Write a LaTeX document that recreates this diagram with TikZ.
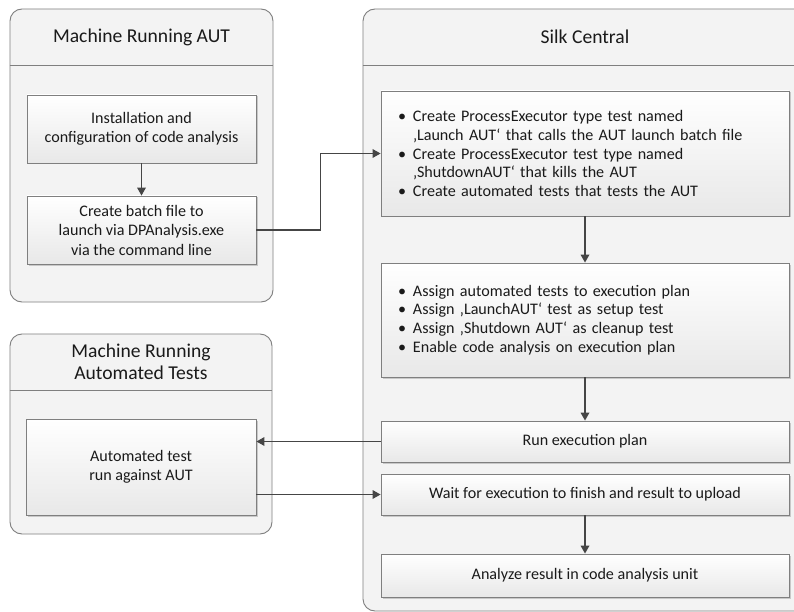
\documentclass[tikz,border=0pt]{standalone}
\usepackage{fontspec}
\setmainfont{Carlito}
\usetikzlibrary{arrows.meta,shadows}
\definecolor{edgec}{HTML}{7F7F7F}
\definecolor{arrowc}{HTML}{454545}
\definecolor{txtc}{HTML}{1A1A1A}
\definecolor{contfill}{HTML}{F3F3F3}
\newcommand\bul{\makebox[15pt][l]{\textbullet}}
\newcommand\ind{\hspace*{15pt}}
\tikzset{
  container/.style={draw=edgec, line width=0.9pt, rounded corners=12pt, fill=contfill},
  headline/.style={draw=edgec, line width=0.9pt},
  titletext/.style={text=txtc, align=center, font=\fontsize{19.6}{22}\selectfont},
  stepbox/.style={draw=edgec, line width=0.8pt, top color=white, bottom color=black!9,
    drop shadow={shadow xshift=1.5pt, shadow yshift=-1.5pt, opacity=0.3, fill=black!60},
    text=txtc, align=center, font=\fontsize{16.1}{19.5}\selectfont, inner sep=0pt},
  listbox/.style={stepbox, align=left, inner xsep=17pt, text width=374pt,
    font=\fontsize{16.1}{18.8}\selectfont},
  arr/.style={draw=arrowc, line width=1.7pt, -{Triangle[length=8pt,width=8.5pt]}},
}
\begin{document}
\begin{tikzpicture}[x=1pt,y=-1pt]
\useasboundingbox (0,0) rectangle (794,612);
\fill[white] (0,0) rectangle (794,612);
\begin{scope}
\clip (0,0) rectangle (794,612);
% containers
\node[container, minimum width=263pt, minimum height=293pt] (c1) at (141.5,155.5) {};
\draw[headline] (c1.west |- 0,65) -- (c1.east |- 0,65);
\node[titletext] (t1) at (141.5,37) {Machine Running AUT};

\node[container, minimum width=262pt, minimum height=200pt] (c2) at (141,434) {};
\draw[headline] (c2.west |- 0,390) -- (c2.east |- 0,390);
\node[titletext] (t2) at (141,362) {Machine Running\\Automated Tests};

\node[container, minimum width=444pt, minimum height=602pt] (c3) at (585,310) {};
\draw[headline] (c3.west |- 0,65) -- (c3.east |- 0,65);
\node[titletext] (t3) at (585,37) {Silk Central};

% boxes left
\node[stepbox, minimum width=229pt, minimum height=68pt] (b1) at (141.5,129)
  {Installation and\\configuration of code analysis};
\node[stepbox, minimum width=229pt, minimum height=68pt] (b2) at (141.5,230)
  {Create batch file to\\launch via DPAnalysis.exe\\ via the command line};
\node[stepbox, minimum width=230pt, minimum height=96pt] (b3) at (141,467)
  {Automated test\\run against AUT};

% boxes right
\node[listbox, minimum height=125pt] (s1) at (585,153.5)
  {\bul Create ProcessExecutor type test named\\
   \ind ‚Launch AUT‘ that calls the AUT launch batch file\\
   \bul Create ProcessExecutor test type named\\
   \ind ‚ShutdownAUT‘ that kills the AUT\\
   \bul Create automated tests that tests the AUT};
\node[listbox, minimum height=114pt] (s2) at (585,320)
  {\bul Assign automated tests to execution plan\\
   \bul Assign ‚LaunchAUT‘ test as setup test\\
   \bul Assign ‚Shutdown AUT‘ as cleanup test\\
   \bul Enable code analysis on execution plan};
\node[stepbox, minimum width=408pt, minimum height=41pt] (s3) at (585,441.5)
  {Run execution plan};
\node[stepbox, minimum width=408pt, minimum height=41pt] (s4) at (585,494.5)
  {Wait for execution to finish and result to upload};
\node[stepbox, minimum width=408pt, minimum height=43pt] (s5) at (585,575.5)
  {Analyze result in code analysis unit};

% connectors
\draw[arr] (b1.south) -- (b2.north);
\draw[arr] (b2.east) -- ++(64,0) |- (s1.west);
\draw[arr] (s1.south) -- (s2.north);
\draw[arr] (s2.south) -- (s3.north);
\draw[arr] (s3.west) -- (s3.west -| b3.east);
\draw[arr] (b3.east |- s4.west) -- (s4.west);
\draw[arr] (s4.south) -- (s5.north);
\end{scope}
\end{tikzpicture}
\end{document}
